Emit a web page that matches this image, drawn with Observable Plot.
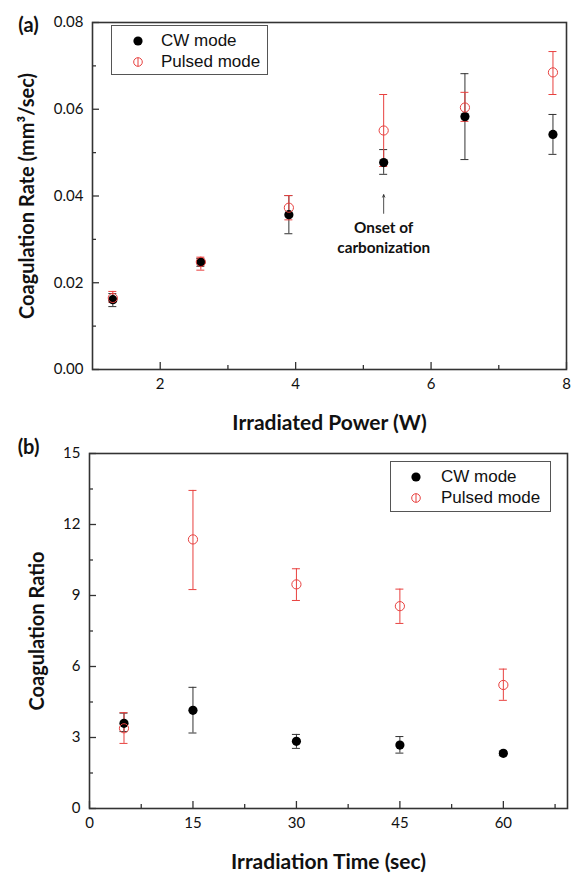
<!DOCTYPE html>
<html>
<head>
<meta charset="utf-8">
<script src="https://cdn.jsdelivr.net/npm/d3@7"></script>
<script src="https://cdn.jsdelivr.net/npm/@observablehq/plot@0.6"></script>
<style>
  body { margin: 0; background: #fff; }
  #wrap { position: relative; width: 572px; height: 875px; overflow: hidden; font-family: Lato, "Open Sans", sans-serif; }
  .panel { position: absolute; left: 0; }
  .legend { position: absolute; box-sizing: border-box; border: 1px solid #555; background: #fff;
            font-family: "Liberation Sans", Arial, sans-serif; font-size: 17px; color: #111; }
  .legend .row { position: absolute; left: 0; height: 20px; display: flex; align-items: center; white-space: nowrap; }
  .legend svg { display: block; }
</style>
</head>
<body>
<div id="wrap"></div>
<script>
// ---------- Panel (a) data ----------
const powerW       = [1.3, 2.6, 3.9, 5.3, 6.5, 7.8];
const rateCW       = [0.0161, 0.0247, 0.0357, 0.0477, 0.0583, 0.0542];
const rateCWLo     = [0.0145, 0.0238, 0.0313, 0.0450, 0.0484, 0.0496];
const rateCWHi     = [0.0175, 0.0256, 0.0401, 0.0507, 0.0682, 0.0588];
const ratePulsed   = [0.0165, 0.0248, 0.0373, 0.0551, 0.0604, 0.0685];
const ratePulsedLo = [0.0155, 0.0229, 0.0345, 0.0468, 0.0572, 0.0634];
const ratePulsedHi = [0.0180, 0.0259, 0.0401, 0.0634, 0.0639, 0.0733];
const aXMajor = [2, 4, 6, 8];
const aXMinor = [3, 5, 7];
const aYMajor = [0, 0.02, 0.04, 0.06, 0.08];
const aYMinor = [0.01, 0.03, 0.05, 0.07];
const onsetPower = 5.3;
const onsetArrow = [0.0360, 0.0403];
const onsetTextY = 0.0348;

// ---------- Panel (b) data ----------
const timeSec        = [5, 15, 30, 45, 60];
const ratioCW        = [3.60, 4.15, 2.84, 2.68, 2.33];
const ratioCWLo      = [3.25, 3.19, 2.54, 2.34, 2.23];
const ratioCWHi      = [4.03, 5.12, 3.13, 3.04, 2.43];
const ratioPulsed    = [3.39, 11.37, 9.47, 8.55, 5.22];
const ratioPulsedLo  = [2.75, 9.25, 8.79, 7.82, 4.57];
const ratioPulsedHi  = [4.05, 13.44, 10.13, 9.27, 5.89];
const bXMajor = [0, 15, 30, 45, 60];
const bXMinor = [7.5, 22.5, 37.5, 52.5, 67.5];
const bYMajor = [0, 3, 6, 9, 12, 15];
const bYMinor = [1.5, 4.5, 7.5, 10.5, 13.5];

const seriesNames = ["CW mode", "Pulsed mode"];
const RED = "#e8413f";
const BLACK = "#000";
const BAR_BLACK = "#333";

function rows(xs, ys, lo, hi) {
  return xs.map((x, i) => ({x, y: ys[i], lo: lo[i], hi: hi[i]}));
}

function errorMarks(data, color) {
  return [
    Plot.ruleX(data, {x: "x", y1: "lo", y2: "hi", stroke: color, strokeWidth: 1}),
    Plot.ruleY(data, {y: "hi", x1: "x", x2: "x", insetLeft: -4, insetRight: -4, stroke: color, strokeWidth: 1}),
    Plot.ruleY(data, {y: "lo", x1: "x", x2: "x", insetLeft: -4, insetRight: -4, stroke: color, strokeWidth: 1})
  ];
}

function buildPanel(cfg) {
  const fw = cfg.width - cfg.ml - cfg.mr;
  const fh = cfg.height - cfg.mt - cfg.mb;
  const cw = rows(cfg.xs, cfg.cw, cfg.cwLo, cfg.cwHi);
  const pu = rows(cfg.xs, cfg.pu, cfg.puLo, cfg.puHi);
  return Plot.plot({
    width: cfg.width, height: cfg.height,
    marginLeft: cfg.ml, marginRight: cfg.mr, marginTop: cfg.mt, marginBottom: cfg.mb,
    style: {fontFamily: "Lato, 'Open Sans', sans-serif", fontSize: "15px", color: "#111", background: "transparent", overflow: "visible"},
    x: {domain: cfg.xDomain, label: null},
    y: {domain: cfg.yDomain, label: null},
    marks: [
      // tick labels
      Plot.axisX(cfg.xMajor, {tickSize: 0, tickPadding: 9, fontSize: 15, tickFormat: cfg.xFmt, label: null}),
      Plot.axisY(cfg.yMajor, {tickSize: 0, tickPadding: 9, fontSize: 15, tickFormat: cfg.yFmt, label: null}),
      // inward ticks
      Plot.tickX(cfg.xMajor, {x: d => d, insetTop: fh - 7, stroke: BAR_BLACK, strokeWidth: 1.3}),
      Plot.tickX(cfg.xMinor, {x: d => d, insetTop: fh - 4, stroke: BAR_BLACK, strokeWidth: 1.3}),
      Plot.tickY(cfg.yMajor, {y: d => d, insetRight: fw - 7, stroke: BAR_BLACK, strokeWidth: 1.3}),
      Plot.tickY(cfg.yMinor, {y: d => d, insetRight: fw - 4, stroke: BAR_BLACK, strokeWidth: 1.3}),
      Plot.frame({stroke: "#333", strokeWidth: 1.6}),
      // error bars and points
      ...errorMarks(cw, BAR_BLACK),
      ...errorMarks(pu, RED),
      Plot.dot(cw, {x: "x", y: "y", r: 4.6, fill: BLACK, stroke: "none"}),
      Plot.dot(pu, {x: "x", y: "y", r: 4.6, fill: "none", stroke: RED, strokeWidth: 1}),
      ...(cfg.extra || []),
      // axis titles & panel label
      Plot.text([cfg.xTitle], {frameAnchor: "bottom", dy: cfg.xTitleDy, textAnchor: "middle", lineAnchor: "middle", fontSize: 21, fontWeight: "bold", fill: "#111"}),
      Plot.text([cfg.yTitle], {frameAnchor: "left", dx: cfg.yTitleDx, rotate: -90, textAnchor: "middle", lineAnchor: "middle", fontSize: cfg.yTitleSize, fontWeight: "bold", fill: "#111"}),
      Plot.text([cfg.label], {frameAnchor: "top-left", dx: cfg.labelDx, dy: cfg.labelDy, textAnchor: "middle", lineAnchor: "middle", fontSize: 20, fontWeight: "bold", fill: "#111"})
    ]
  });
}

const wrap = document.getElementById("wrap");

// Panel (a)
const plotA = buildPanel({
  width: 572, height: 440, ml: 92, mr: 6, mt: 22, mb: 71,
  xDomain: [1, 8], yDomain: [0, 0.08],
  xMajor: aXMajor, xMinor: aXMinor, yMajor: aYMajor, yMinor: aYMinor,
  xFmt: d3.format("d"), yFmt: d3.format(".2f"),
  xs: powerW, cw: rateCW, cwLo: rateCWLo, cwHi: rateCWHi, pu: ratePulsed, puLo: ratePulsedLo, puHi: ratePulsedHi,
  xTitle: "Irradiated Power (W)", xTitleDy: 54,
  yTitle: "Coagulation Rate (mm\u00B3/sec)", yTitleDx: -65, yTitleSize: 20,
  label: "(a)", labelDx: -64, labelDy: 3,
  extra: [
    Plot.arrow([{x: onsetPower, y1: onsetArrow[0], y2: onsetArrow[1]}], {x: "x", y1: "y1", y2: "y2", stroke: "#222", strokeWidth: 0.8, headLength: 5, headAngle: 50}),
    Plot.text(["Onset of\ncarbonization"], {x: () => onsetPower, y: () => onsetTextY, lineAnchor: "top", lineHeight: 1.3, fontSize: 15.3, fontWeight: "bold", fill: "#111"})
  ]
});
plotA.classList.add("panel");
plotA.style.top = "0px";
wrap.appendChild(plotA);

// Panel (b)
const plotB = buildPanel({
  width: 572, height: 435, ml: 89, mr: 5, mt: 13, mb: 67,
  xDomain: [0, 69.3], yDomain: [0, 15],
  xMajor: bXMajor, xMinor: bXMinor, yMajor: bYMajor, yMinor: bYMinor,
  xFmt: d3.format("d"), yFmt: d3.format("d"),
  xs: timeSec, cw: ratioCW, cwLo: ratioCWLo, cwHi: ratioCWHi, pu: ratioPulsed, puLo: ratioPulsedLo, puHi: ratioPulsedHi,
  xTitle: "Irradiation Time (sec)", xTitleDy: 54,
  yTitle: "Coagulation Ratio", yTitleDx: -52, yTitleSize: 20,
  label: "(b)", labelDx: -61, labelDy: -6
});
plotB.classList.add("panel");
plotB.style.top = "440px";
wrap.appendChild(plotB);

// Legends (HTML overlays)
function legend(left, top, w, h, symX, rowYs, textX) {
  const div = document.createElement("div");
  div.className = "legend";
  Object.assign(div.style, {left: left + "px", top: top + "px", width: w + "px", height: h + "px"});
  seriesNames.forEach((name, i) => {
    const row = document.createElement("div");
    row.className = "row";
    row.style.top = (rowYs[i] - top - 10) + "px";
    const sx = symX - left - 1;
    const sym = i === 0
      ? `<svg width="14" height="20" style="position:absolute;left:${sx - 7}px;top:0"><circle cx="7" cy="10" r="4.6" fill="#000"/></svg>`
      : `<svg width="14" height="20" style="position:absolute;left:${sx - 7}px;top:0"><circle cx="7" cy="10" r="4.3" fill="none" stroke="${RED}" stroke-width="1"/><line x1="7" x2="7" y1="5.7" y2="14.3" stroke="${RED}" stroke-width="1"/></svg>`;
    row.innerHTML = sym + `<span style="position:absolute;left:${textX - left - 1}px;top:0;line-height:20px">${name}</span>`;
    div.appendChild(row);
  });
  wrap.appendChild(div);
}
legend(111, 25, 157, 50, 138, [40, 61], 161);
legend(390, 461, 161, 51, 416, [476, 497], 441);
</script>
</body>
</html>
